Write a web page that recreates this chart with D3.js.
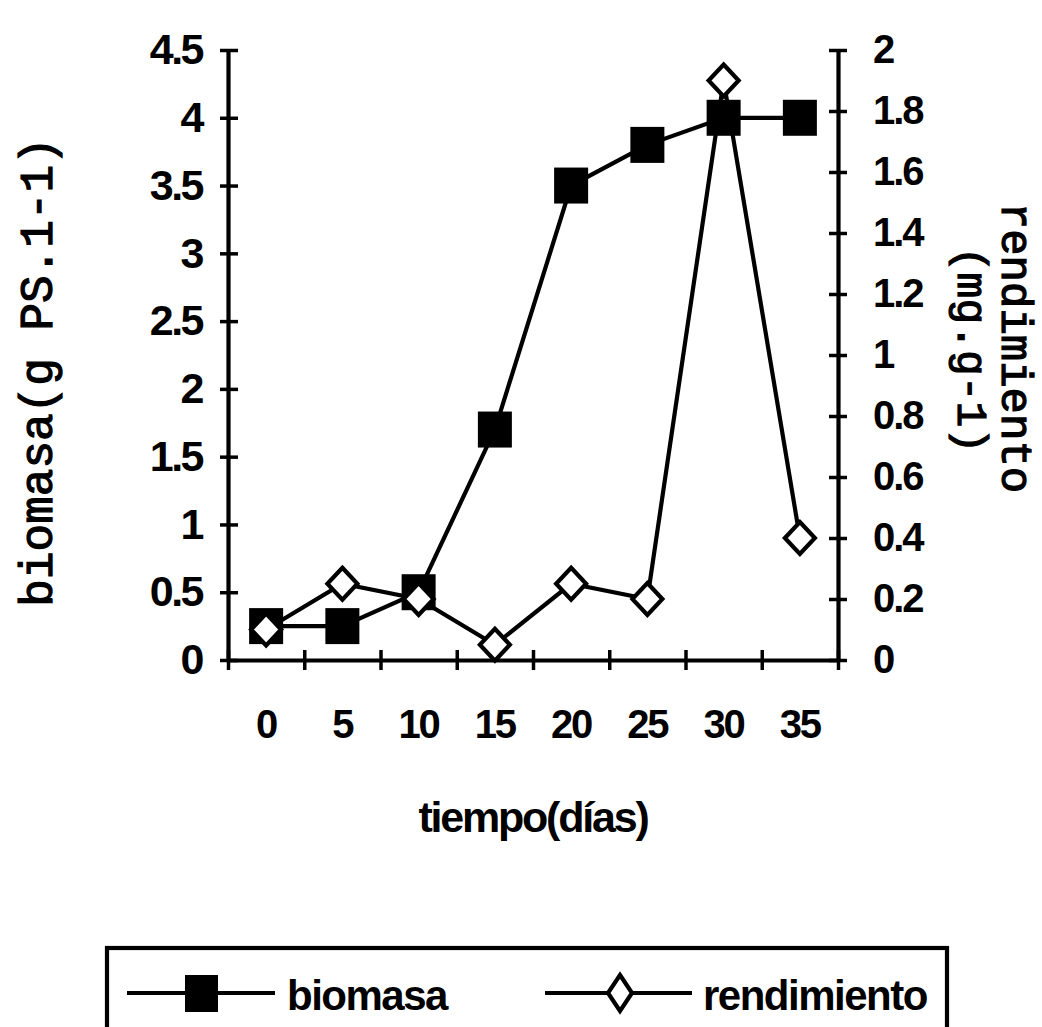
<!DOCTYPE html>
<html>
<head>
<meta charset="utf-8">
<script src="https://cdn.jsdelivr.net/npm/d3@7"></script>
<style>
  body { margin: 0; background: #fff; }
  svg { display: block; }
</style>
</head>
<body>
<svg></svg>
<script>
var dias = ["0", "5", "10", "15", "20", "25", "30", "35"];
var biomasa = [0.25, 0.25, 0.5, 1.7, 3.5, 3.8, 4.0, 4.0];
var rendimiento = [0.1, 0.25, 0.2, 0.05, 0.25, 0.2, 1.9, 0.4];
var ticksIzq = [0, 0.5, 1, 1.5, 2, 2.5, 3, 3.5, 4, 4.5];
var ticksDer = [0, 0.2, 0.4, 0.6, 0.8, 1, 1.2, 1.4, 1.6, 1.8, 2];

var svgWidth = 1042;
var svgHeight = 1027;
var plotIzq = 228, plotDer = 838, plotArriba = 50, plotAbajo = 660;
var sans = "'Liberation Sans', Arial, sans-serif";
var mono = "'Liberation Mono', 'Courier New', monospace";
var grosor = 4.2;

var svg = d3.select("svg")
    .attr("width", svgWidth)
    .attr("height", svgHeight);

var x = d3.scaleBand().domain(dias).range([plotIzq, plotDer]);
var xBorde = d3.scaleLinear().domain([0, dias.length]).range([plotIzq, plotDer]);
var yIzq = d3.scaleLinear().domain([0, 4.5]).range([plotAbajo, plotArriba]);
var yDer = d3.scaleLinear().domain([0, 2]).range([plotAbajo, plotArriba]);

function estiloEje(g) {
    g.select(".domain").attr("stroke", "#000").attr("stroke-width", grosor);
    g.selectAll(".tick line").attr("stroke", "#000").attr("stroke-width", 3.5);
    g.selectAll("text").attr("fill", "#000").attr("font-family", sans).attr("font-weight", "bold");
}

// left axis
var ejeIzq = svg.append("g")
    .attr("transform", "translate(" + plotIzq + ",0)")
    .call(d3.axisLeft(yIzq).tickValues(ticksIzq).tickSize(8).tickSizeOuter(0).tickPadding(18)
        .tickFormat(function (d) { return d; }));
estiloEje(ejeIzq);
ejeIzq.selectAll(".tick line").attr("x1", 10);
ejeIzq.selectAll("text").attr("font-size", 43).attr("letter-spacing", -2.5);

// right axis
var ejeDer = svg.append("g")
    .attr("transform", "translate(" + plotDer + ",0)")
    .call(d3.axisRight(yDer).tickValues(ticksDer).tickSize(9).tickSizeOuter(0).tickPadding(26)
        .tickFormat(function (d) { return d; }));
estiloEje(ejeDer);
ejeDer.selectAll(".tick line").attr("x1", -9);
ejeDer.selectAll("text").attr("font-size", 40).attr("letter-spacing", -2);

// bottom axis: ticks at category borders
var ejeX = svg.append("g")
    .attr("transform", "translate(0," + plotAbajo + ")")
    .call(d3.axisBottom(xBorde).ticks(dias.length).tickSize(10).tickSizeOuter(0).tickFormat(""));
estiloEje(ejeX);
ejeX.selectAll(".tick line").attr("y1", -10);

// category labels
svg.append("g")
    .attr("transform", "translate(0," + plotAbajo + ")")
    .call(d3.axisBottom(x).tickSize(0).tickPadding(50))
    .call(function (g) {
        g.select(".domain").remove();
        g.selectAll("text").attr("fill", "#000").attr("font-family", sans)
            .attr("font-weight", "bold").attr("font-size", 40).attr("letter-spacing", -2);
    });

// axis titles
svg.append("text")
    .attr("transform", "translate(52,372) rotate(-90)")
    .attr("text-anchor", "middle")
    .attr("font-family", mono)
    .attr("font-size", 46)
    .attr("stroke", "#000").attr("stroke-width", 1.2)
    .text("biomasa(g PS.1-1)");

svg.append("text")
    .attr("transform", "translate(1002,348) rotate(90)")
    .attr("text-anchor", "middle")
    .attr("font-family", mono)
    .attr("font-size", 44)
    .attr("stroke", "#000").attr("stroke-width", 1.2)
    .text("rendimiento");

svg.append("text")
    .attr("transform", "translate(958,350) rotate(90)")
    .attr("text-anchor", "middle")
    .attr("font-family", mono)
    .attr("font-size", 43)
    .attr("stroke", "#000").attr("stroke-width", 1.2)
    .text("(mg.g-1)");

svg.append("text")
    .attr("x", (plotIzq + plotDer) / 2)
    .attr("y", 832)
    .attr("text-anchor", "middle")
    .attr("font-family", sans)
    .attr("font-weight", "bold")
    .attr("font-size", 43)
    .attr("letter-spacing", -2.2)
    .text("tiempo(días)");

// series
var cx = function (d, i) { return x(dias[i]) + x.bandwidth() / 2; };

var lineaB = d3.line().x(cx).y(function (d) { return yIzq(d); });
svg.append("path")
    .attr("d", lineaB(biomasa))
    .attr("fill", "none").attr("stroke", "#000").attr("stroke-width", grosor);

svg.selectAll("rect.bio")
    .data(biomasa)
    .enter()
    .append("rect")
    .attr("class", "bio")
    .attr("x", function (d, i) { return cx(d, i) - 17; })
    .attr("y", function (d) { return yIzq(d) - 18; })
    .attr("width", 34)
    .attr("height", 36)
    .attr("fill", "#000");

var lineaR = d3.line().x(cx).y(function (d) { return yDer(d); });
svg.append("path")
    .attr("d", lineaR(rendimiento))
    .attr("fill", "none").attr("stroke", "#000").attr("stroke-width", grosor);

var rombo = "M0,-16L15,0L0,16L-15,0Z";
svg.selectAll("path.rend")
    .data(rendimiento)
    .enter()
    .append("path")
    .attr("class", "rend")
    .attr("d", rombo)
    .attr("transform", function (d, i) { return "translate(" + cx(d, i) + "," + yDer(d) + ")"; })
    .attr("fill", "#fff").attr("stroke", "#000").attr("stroke-width", grosor);

// legend
var leyenda = svg.append("g");
leyenda.append("rect")
    .attr("x", 107).attr("y", 948)
    .attr("width", 840).attr("height", 100)
    .attr("fill", "none").attr("stroke", "#000").attr("stroke-width", grosor);

leyenda.append("line")
    .attr("x1", 127).attr("x2", 275).attr("y1", 993).attr("y2", 993)
    .attr("stroke", "#000").attr("stroke-width", grosor);
leyenda.append("rect")
    .attr("x", 185).attr("y", 975).attr("width", 33).attr("height", 37)
    .attr("fill", "#000");
leyenda.append("text")
    .attr("x", 287).attr("y", 1010)
    .attr("font-family", sans).attr("font-weight", "bold").attr("font-size", 42)
    .attr("letter-spacing", -1.5)
    .text("biomasa");

leyenda.append("line")
    .attr("x1", 545).attr("x2", 692).attr("y1", 993).attr("y2", 993)
    .attr("stroke", "#000").attr("stroke-width", grosor);
leyenda.append("path")
    .attr("d", "M0,-18L12,0L0,18L-12,0Z")
    .attr("transform", "translate(620,993)")
    .attr("fill", "#fff").attr("stroke", "#000").attr("stroke-width", grosor);
leyenda.append("text")
    .attr("x", 703).attr("y", 1010)
    .attr("font-family", sans).attr("font-weight", "bold").attr("font-size", 42)
    .attr("letter-spacing", -1.5)
    .text("rendimiento");
</script>
</body>
</html>
